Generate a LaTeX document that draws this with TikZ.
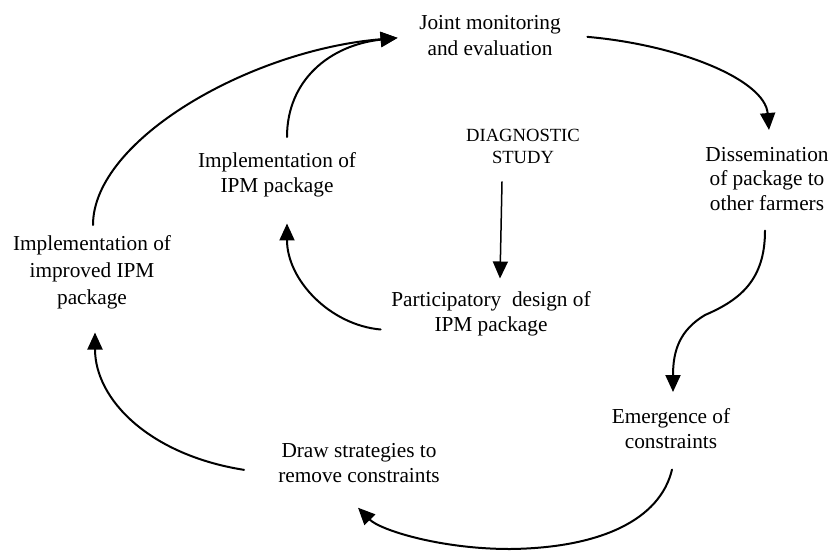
\documentclass[tikz,border=0pt]{standalone}
\usepackage{fontspec}
\setmainfont{Liberation Serif}
\usetikzlibrary{arrows.meta}
\begin{document}
\begin{tikzpicture}[x=1pt,y=-1pt,
  lbl/.style={inner sep=0pt, align=center, anchor=north},
  arr/.style={line width=2pt, line cap=round, -{Triangle[length=17pt,width=15pt]}}]
\useasboundingbox (0,0) rectangle (830,552);
% nodes
\node[lbl, font=\fontsize{21.3}{26}\selectfont] (joint) at (490,15.5) {Joint monitoring\\and evaluation};
\node[lbl, font=\fontsize{21.3}{24.5}\selectfont] (dissem) at (767,147) {Dissemination\\of package to\\other farmers};
\node[lbl, font=\fontsize{18.6}{22}\selectfont] (diag) at (523,129) {DIAGNOSTIC\\STUDY};
\node[lbl, font=\fontsize{21.3}{25}\selectfont] (impl) at (277,152) {Implementation of\\IPM package};
\node[lbl, font=\fontsize{21.3}{27}\selectfont] (improved) at (92,235) {Implementation of\\improved IPM\\package};
\node[lbl, font=\fontsize{21.3}{25}\selectfont] (part) at (491,291) {Participatory~ design of\\IPM package};
\node[lbl, font=\fontsize{21.3}{25}\selectfont] (emerg) at (671,408) {Emergence of\\constraints};
\node[lbl, font=\fontsize{21.3}{25}\selectfont] (draw) at (359,443) {Draw strategies to\\remove constraints};
% connectors
\draw[arr] ([xshift=1pt,yshift=10pt]improved.north) .. controls (93,140) and (250,50) .. ([xshift=-21.5pt,yshift=-2pt]joint.west);
\draw[arr] ([xshift=10pt,yshift=15pt]impl.north) .. controls (287,80) and (330,45) .. ([xshift=-21.5pt,yshift=-2pt]joint.west);
\draw[arr] ([xshift=26.5pt,yshift=-1pt]joint.east) .. controls (680,45) and (765,80) .. ([xshift=2pt,yshift=17pt]dissem.north);
\draw[arr] ([xshift=-2pt,yshift=-20pt]dissem.south) .. controls (765,280) and (740,300) .. (705,315) .. controls (680,330) and (673,350) .. ([xshift=2pt,yshift=16pt]emerg.north);
\draw[arr] ([xshift=1pt,yshift=-21pt]emerg.south) .. controls (660,520) and (600,548) .. (510,549) .. controls (440,549) and (380,530) .. ([xshift=-1pt,yshift=-25pt]draw.south);
\draw[arr] ([xshift=-34pt,yshift=-7pt]draw.west) .. controls (150,455) and (95,400) .. ([xshift=3pt,yshift=-23.5pt]improved.south);
\draw[arr] ([xshift=-10.5pt,yshift=-16pt]part.west) .. controls (330,325) and (287,280) .. ([xshift=10pt,yshift=-26.5pt]impl.south);
\draw[arr, line width=1.5pt] ([xshift=-21pt,yshift=-18pt]diag.south) -- ([xshift=9pt,yshift=12.5pt]part.north);
\end{tikzpicture}
\end{document}
